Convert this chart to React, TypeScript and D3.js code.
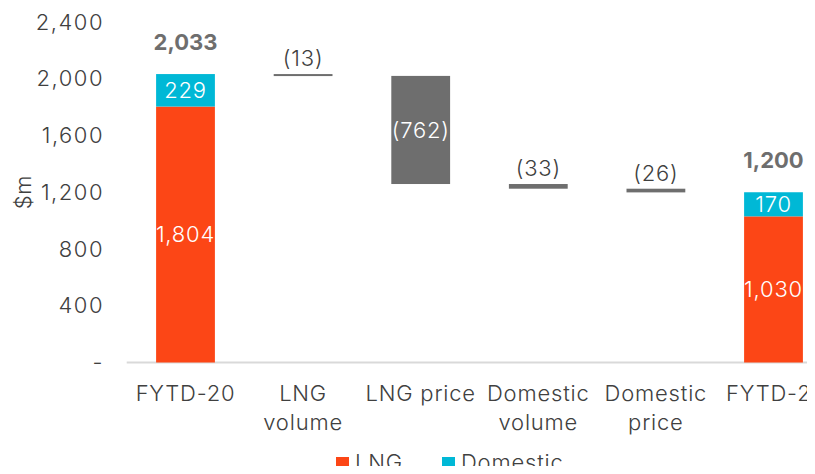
import React, { useRef, useEffect } from 'react'
import * as d3 from 'd3'

const categories = ['FYTD-20', 'LNG volume', 'LNG price', 'Domestic volume', 'Domestic price', 'FYTD-21']
const startLng = 1804
const startDomestic = 229
const deltas = [-13, -762, -33, -26]
const endLng = 1030
const endDomestic = 170
const yTicks = [0, 400, 800, 1200, 1600, 2000, 2400]

const LNG_COLOR = '#FC4616'
const DOM_COLOR = '#00B8D6'
const GREY = '#6E6E6E'
const TEXT = '#404040'
const FONT = 'Inter, "Open Sans", sans-serif'

export default function App() {
  const chartRef = useRef<HTMLDivElement>(null)

  useEffect(() => {
    const width = 815
    const height = 474

    const container = d3.select(chartRef.current)
    container.html('')

    const svg = container.append('svg')
      .attr('width', width)
      .attr('height', height)
      .style('display', 'block')
      .style('font-family', FONT)
      .style('font-weight', 300)

    const x = d3.scaleBand<string>()
      .domain(categories)
      .range([126.7, 126.7 + 117.6 * categories.length])
      .paddingInner(0.5)
      .paddingOuter(0.25)

    const y = d3.scaleLinear().domain([0, 2400]).range([362.5, 22])

    // y axis labels
    svg.append('g').selectAll('text')
      .data(yTicks)
      .enter().append('text')
      .attr('x', 104)
      .attr('y', d => y(d))
      .attr('dy', '0.35em')
      .attr('text-anchor', 'end')
      .attr('font-size', 22)
      .attr('letter-spacing', 1.5)
      .attr('fill', TEXT)
      .text(d => d === 0 ? '-' : d3.format(',')(d))

    svg.append('text')
      .attr('transform', 'translate(31,192) rotate(-90)')
      .attr('text-anchor', 'middle')
      .attr('font-size', 22)
      .attr('letter-spacing', 0.8)
      .attr('fill', TEXT)
      .text('$m')

    // baseline
    svg.append('line')
      .attr('x1', 126.7)
      .attr('x2', width)
      .attr('y1', y(0))
      .attr('y2', y(0))
      .attr('stroke', '#D9D9D9')
      .attr('stroke-width', 2)

    const bw = x.bandwidth()

    // stacked totals
    const totals = [
      { cat: categories[0], lng: startLng, dom: startDomestic },
      { cat: categories[categories.length - 1], lng: endLng, dom: endDomestic }
    ]

    totals.forEach(t => {
      const x0 = x(t.cat) as number
      svg.append('rect')
        .attr('x', x0).attr('width', bw)
        .attr('y', y(t.lng)).attr('height', y(0) - y(t.lng))
        .attr('fill', LNG_COLOR)
      svg.append('rect')
        .attr('x', x0).attr('width', bw)
        .attr('y', y(t.lng + t.dom)).attr('height', y(t.lng) - y(t.lng + t.dom))
        .attr('fill', DOM_COLOR)
      svg.append('text')
        .attr('x', x0 + bw / 2).attr('y', (y(0) + y(t.lng)) / 2)
        .attr('dy', '0.35em').attr('text-anchor', 'middle')
        .attr('font-size', 22).attr('letter-spacing', 0.8).attr('fill', '#fff')
        .text(d3.format(',')(t.lng))
      svg.append('text')
        .attr('x', x0 + bw / 2).attr('y', (y(t.lng) + y(t.lng + t.dom)) / 2)
        .attr('dy', '0.35em').attr('text-anchor', 'middle')
        .attr('font-size', 22).attr('letter-spacing', 0.8).attr('fill', '#fff')
        .text(d3.format(',')(t.dom))
      svg.append('text')
        .attr('x', x0 + bw / 2).attr('y', y(t.lng + t.dom) - 24)
        .attr('text-anchor', 'middle')
        .attr('font-size', 22).attr('font-weight', 'bold').attr('fill', GREY)
        .text(d3.format(',')(t.lng + t.dom))
    })

    // floating deltas
    let running = startLng + startDomestic
    deltas.forEach((d, i) => {
      const top = running
      const bottom = running + d
      running = bottom
      const x0 = x(categories[i + 1]) as number
      const h = Math.max(2, y(bottom) - y(top))
      svg.append('rect')
        .attr('x', x0).attr('width', bw)
        .attr('y', y(top)).attr('height', h)
        .attr('fill', GREY)
      const label = `(${Math.abs(d)})`
      const inside = h > 40
      svg.append('text')
        .attr('x', x0 + bw / 2)
        .attr('y', inside ? (y(top) + y(bottom)) / 2 : y(top) - 8)
        .attr('dy', inside ? '0.35em' : 0)
        .attr('text-anchor', 'middle')
        .attr('font-size', 22)
        .attr('letter-spacing', 0.8)
        .attr('fill', inside ? '#fff' : TEXT)
        .text(label)
    })

    // category labels
    const catLines: Record<string, string[]> = {
      'LNG volume': ['LNG', 'volume'],
      'Domestic volume': ['Domestic', 'volume'],
      'Domestic price': ['Domestic', 'price']
    }
    categories.forEach(c => {
      const lines = catLines[c] || [c]
      const t = svg.append('text')
        .attr('x', (x(c) as number) + bw / 2)
        .attr('y', 401)
        .attr('text-anchor', 'middle')
        .attr('font-size', 22)
        .attr('letter-spacing', 0.8)
        .attr('fill', TEXT)
      lines.forEach((l, j) => {
        t.append('tspan')
          .attr('x', (x(c) as number) + bw / 2)
          .attr('dy', j === 0 ? 0 : 29)
          .text(l)
      })
    })

    // legend
    const legend = [
      { name: 'LNG', color: LNG_COLOR, x: 336 },
      { name: 'Domestic', color: DOM_COLOR, x: 442 }
    ]
    legend.forEach(l => {
      svg.append('rect')
        .attr('x', l.x).attr('y', 457).attr('width', 13).attr('height', 13)
        .attr('fill', l.color)
      svg.append('text')
        .attr('x', l.x + 19).attr('y', 470)
        .attr('font-size', 22).attr('letter-spacing', 0.8).attr('fill', TEXT)
        .text(l.name)
    })

    return () => {
      svg.remove()
    }
  }, [])

  return (
    <div ref={chartRef} style={{ width: '815px', height: '474px', margin: '-8px', overflow: 'hidden' }}></div>
  )
}
